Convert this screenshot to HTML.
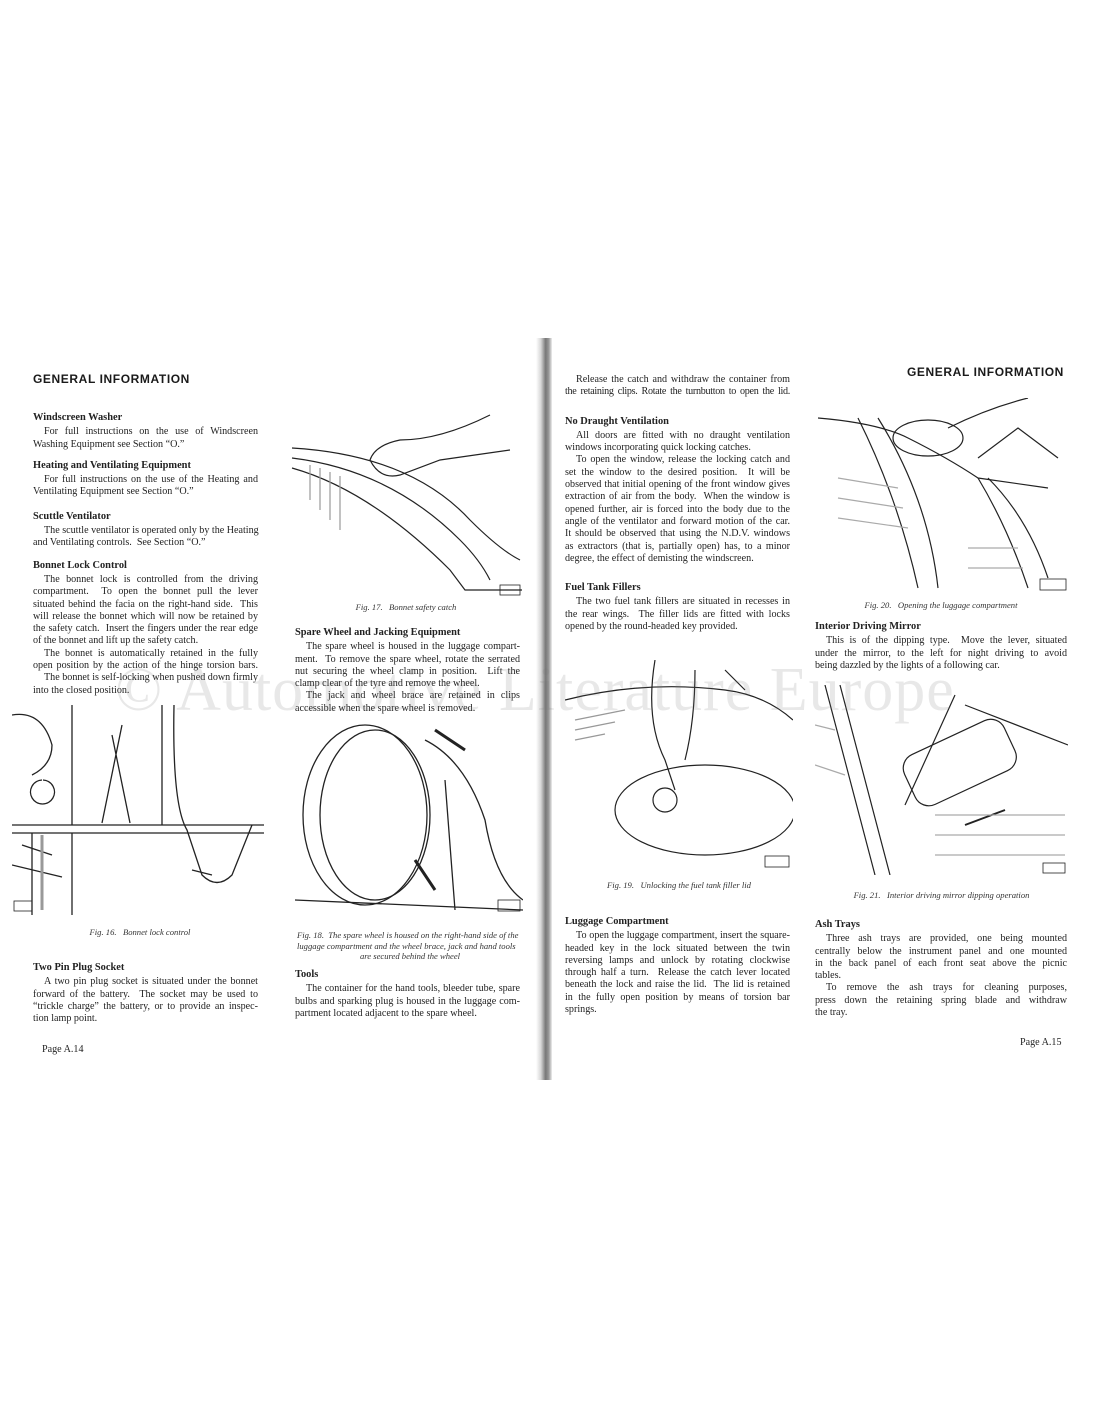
<!DOCTYPE html>
<html><head><meta charset="utf-8"><style>
body{margin:0;width:1100px;height:1422px;background:#fff;position:relative;overflow:hidden;font-family:"Liberation Serif",serif;color:#222}
.b{position:absolute;font-size:10.1px;line-height:12.3px}
.l{text-align:justify;text-align-last:justify;white-space:nowrap}
.e{white-space:nowrap}
.i{padding-left:11px}
.h{font-weight:bold;font-size:10.4px;margin-bottom:2px}
.gi{position:absolute;font-family:"Liberation Sans",sans-serif;font-weight:bold;font-size:12px;letter-spacing:0.6px;color:#1a1a1a;white-space:nowrap}
.cap{position:absolute;font-style:italic;font-size:8.6px;text-align:center;color:#333;line-height:10.5px}
.wm{position:absolute;left:115px;top:655px;font-size:62px;color:rgba(120,120,120,0.17);white-space:nowrap;letter-spacing:1px}
svg{position:absolute}
</style></head><body>
<div style="position:absolute;left:536px;top:338px;width:16px;height:742px;background:linear-gradient(90deg,#fff,#d8d8d8 30%,#777 60%,#999 80%,#eee)"></div>

<div class="gi" style="left:33px;top:372px">GENERAL INFORMATION</div>
<div class="gi" style="left:907px;top:365px">GENERAL INFORMATION</div>

<div class="b" style="left:33px;top:412px;width:225px">
<div class="h">Windscreen Washer</div>
<div class="l i">For full instructions on the use of Windscreen</div>
<div class="e">Washing Equipment see Section “O.”</div>
<div class="h" style="margin-top:9px">Heating and Ventilating Equipment</div>
<div class="l i">For full instructions on the use of the Heating and</div>
<div class="e">Ventilating Equipment see Section “O.”</div>
<div class="h" style="margin-top:12px">Scuttle Ventilator</div>
<div class="l i">The scuttle ventilator is operated only by the Heating</div>
<div class="e">and Ventilating controls.&nbsp; See Section “O.”</div>
<div class="h" style="margin-top:10px">Bonnet Lock Control</div>
<div class="l i">The bonnet lock is controlled from the driving</div>
<div class="l">compartment.&nbsp; To open the bonnet pull the lever</div>
<div class="l">situated behind the facia on the right-hand side.&nbsp; This</div>
<div class="l">will release the bonnet which will now be retained by</div>
<div class="l">the safety catch.&nbsp; Insert the fingers under the rear edge</div>
<div class="e">of the bonnet and lift up the safety catch.</div>
<div class="l i">The bonnet is automatically retained in the fully</div>
<div class="l">open position by the action of the hinge torsion bars.</div>
<div class="l i">The bonnet is self-locking when pushed down firmly</div>
<div class="e">into the closed position.</div>
</div>

<svg style="left:12px;top:705px" width="252" height="210" viewBox="0 0 252 210" fill="none" stroke="#222" stroke-width="1.3">
<path d="M0 120 L252 120 M0 128 L252 128"/>
<path d="M60 0 L60 120 M110 20 L90 118 M100 30 L118 118 M150 0 L150 120 M162 0 Q160 100 175 125 L190 170 Q205 185 220 170 L240 120"/>
<path d="M0 10 Q30 5 40 40 Q40 60 20 70 M30 75 a12 12 0 1 0 1 0"/>
<path d="M20 128 L20 210 M60 128 L60 210 M10 140 L40 150 M0 160 L50 172 M180 165 L200 170"/>
<path d="M30 130 L30 205" stroke-width="3" stroke="#999"/>
<rect x="2" y="196" width="18" height="10" stroke-width="0.8"/>
</svg>
<div class="cap" style="left:20px;top:927px;width:240px">Fig. 16.&nbsp;&nbsp; Bonnet lock control</div>

<div class="b" style="left:33px;top:962px;width:225px">
<div class="h">Two Pin Plug Socket</div>
<div class="l i">A two pin plug socket is situated under the bonnet</div>
<div class="l">forward of the battery.&nbsp; The socket may be used to</div>
<div class="l">“trickle charge” the battery, or to provide an inspec-</div>
<div class="e">tion lamp point.</div>
</div>
<div class="b" style="left:42px;top:1044px">Page A.14</div>

<svg style="left:290px;top:410px" width="232" height="190" viewBox="0 0 232 190" fill="none" stroke="#222" stroke-width="1.2">
<path d="M2 38 Q120 45 180 110 Q210 140 230 150"/>
<path d="M2 48 Q100 60 170 130 Q190 150 200 170"/>
<path d="M2 58 Q80 80 160 160 L175 180 L232 180"/>
<path d="M200 5 Q150 30 110 30 Q85 35 80 50 Q90 70 110 65 L150 50 L220 40"/>
<path d="M20 55 L20 90 M30 58 L30 100 M40 62 L40 110 M50 66 L50 120" stroke="#999"/>
<rect x="210" y="175" width="20" height="10" stroke-width="0.8"/>
</svg>
<div class="cap" style="left:290px;top:602px;width:232px">Fig. 17.&nbsp;&nbsp; Bonnet safety catch</div>

<div class="b" style="left:295px;top:627px;width:225px">
<div class="h">Spare Wheel and Jacking Equipment</div>
<div class="l i">The spare wheel is housed in the luggage compart-</div>
<div class="l">ment.&nbsp; To remove the spare wheel, rotate the serrated</div>
<div class="l">nut securing the wheel clamp in position.&nbsp; Lift the</div>
<div class="e">clamp clear of the tyre and remove the wheel.</div>
<div class="l i">The jack and wheel brace are retained in clips</div>
<div class="e">accessible when the spare wheel is removed.</div>
</div>

<svg style="left:295px;top:720px" width="228" height="195" viewBox="0 0 228 195" fill="none" stroke="#222" stroke-width="1.3">
<ellipse cx="70" cy="95" rx="62" ry="90"/>
<ellipse cx="80" cy="95" rx="55" ry="85"/>
<path d="M130 20 Q170 40 190 100 Q200 160 228 180 M150 60 L160 190 M0 180 L228 190"/>
<path d="M140 10 L170 30 M120 140 L140 170" stroke-width="3"/>
<rect x="203" y="180" width="22" height="11" stroke-width="0.8"/>
</svg>
<div class="cap" style="left:297px;top:930px;width:226px;text-align:left;text-align-last:center">Fig. 18.&nbsp; The spare wheel is housed on the right-hand side of the luggage compartment and the wheel brace, jack and hand tools are secured behind the wheel</div>

<div class="b" style="left:295px;top:969px;width:225px">
<div class="h">Tools</div>
<div class="l i">The container for the hand tools, bleeder tube, spare</div>
<div class="l">bulbs and sparking plug is housed in the luggage com-</div>
<div class="e">partment located adjacent to the spare wheel.</div>
</div>

<div class="b" style="left:565px;top:374px;width:225px">
<div class="l i">Release the catch and withdraw the container from</div>
<div class="l" style="letter-spacing:-0.3px">the retaining clips. Rotate the turnbutton to open the lid.</div>
<div class="h" style="margin-top:17px">No Draught Ventilation</div>
<div class="l i">All doors are fitted with no draught ventilation</div>
<div class="e">windows incorporating quick locking catches.</div>
<div class="l i">To open the window, release the locking catch and</div>
<div class="l">set the window to the desired position.&nbsp; It will be</div>
<div class="l">observed that initial opening of the front window gives</div>
<div class="l">extraction of air from the body.&nbsp; When the window is</div>
<div class="l">opened further, air is forced into the body due to the</div>
<div class="l">angle of the ventilator and forward motion of the car.</div>
<div class="l">It should be observed that using the N.D.V. windows</div>
<div class="l">as extractors (that is, partially open) has, to a minor</div>
<div class="e">degree, the effect of demisting the windscreen.</div>
<div class="h" style="margin-top:17px">Fuel Tank Fillers</div>
<div class="l i">The two fuel tank fillers are situated in recesses in</div>
<div class="l">the rear wings.&nbsp; The filler lids are fitted with locks</div>
<div class="e">opened by the round-headed key provided.</div>
</div>

<svg style="left:565px;top:660px" width="228" height="210" viewBox="0 0 228 210" fill="none" stroke="#222" stroke-width="1.2">
<path d="M0 40 Q80 20 160 30 Q200 35 228 60"/>
<ellipse cx="140" cy="150" rx="90" ry="45"/>
<path d="M90 0 Q80 60 100 100 L110 130 M130 10 Q130 60 120 100 M160 10 L180 30"/>
<circle cx="100" cy="140" r="12"/>
<path d="M10 60 L60 50 M10 70 L50 62 M10 80 L40 74" stroke="#999"/>
<rect x="200" y="196" width="24" height="11" stroke-width="0.8"/>
</svg>
<div class="cap" style="left:565px;top:880px;width:228px">Fig. 19.&nbsp;&nbsp; Unlocking the fuel tank filler lid</div>

<div class="b" style="left:565px;top:916px;width:225px">
<div class="h">Luggage Compartment</div>
<div class="l i">To open the luggage compartment, insert the square-</div>
<div class="l">headed key in the lock situated between the twin</div>
<div class="l">reversing lamps and unlock by rotating clockwise</div>
<div class="l">through half a turn.&nbsp; Release the catch lever located</div>
<div class="l">beneath the lock and raise the lid.&nbsp; The lid is retained</div>
<div class="l">in the fully open position by means of torsion bar</div>
<div class="e">springs.</div>
</div>

<svg style="left:818px;top:398px" width="250" height="196" viewBox="0 0 250 196" fill="none" stroke="#222" stroke-width="1.2">
<path d="M0 20 Q60 25 90 40 Q130 60 160 80 L230 90"/>
<ellipse cx="110" cy="40" rx="35" ry="18"/>
<path d="M40 20 Q80 100 100 190 M60 20 Q110 100 120 190 M160 80 Q190 130 210 190 M170 80 Q210 120 230 180"/>
<path d="M130 30 Q170 10 210 0 M160 60 L200 30 L240 60"/>
<path d="M20 80 L80 90 M20 100 L85 110 M20 120 L90 130 M150 150 L200 150 M150 170 L205 170" stroke="#aaa"/>
<rect x="222" y="181" width="26" height="11" stroke-width="0.8"/>
</svg>
<div class="cap" style="left:815px;top:600px;width:252px">Fig. 20.&nbsp;&nbsp; Opening the luggage compartment</div>

<div class="b" style="left:815px;top:621px;width:252px">
<div class="h">Interior Driving Mirror</div>
<div class="l i">This is of the dipping type.&nbsp; Move the lever, situated</div>
<div class="l">under the mirror, to the left for night driving to avoid</div>
<div class="e">being dazzled by the lights of a following car.</div>
</div>

<svg style="left:815px;top:685px" width="253" height="190" viewBox="0 0 253 190" fill="none" stroke="#222" stroke-width="1.2">
<path d="M10 0 L60 190 M25 0 L75 190 M140 10 L90 120 M150 20 L253 60"/>
<rect x="90" y="50" width="110" height="55" rx="15" transform="rotate(-25 145 78)"/>
<path d="M150 140 L190 125" stroke-width="2"/>
<path d="M120 130 L250 130 M120 150 L250 150 M120 170 L250 170 M0 40 L20 45 M0 80 L30 90" stroke="#aaa"/>
<rect x="228" y="178" width="22" height="10" stroke-width="0.8"/>
</svg>
<div class="cap" style="left:815px;top:890px;width:253px">Fig. 21.&nbsp;&nbsp; Interior driving mirror dipping operation</div>

<div class="b" style="left:815px;top:919px;width:252px">
<div class="h">Ash Trays</div>
<div class="l i">Three ash trays are provided, one being mounted</div>
<div class="l">centrally below the instrument panel and one mounted</div>
<div class="l">in the back panel of each front seat above the picnic</div>
<div class="e">tables.</div>
<div class="l i">To remove the ash trays for cleaning purposes,</div>
<div class="l">press down the retaining spring blade and withdraw</div>
<div class="e">the tray.</div>
</div>
<div class="b" style="left:1020px;top:1037px">Page A.15</div>

<div class="wm">© Automotive Literature Europe</div>
</body></html>
